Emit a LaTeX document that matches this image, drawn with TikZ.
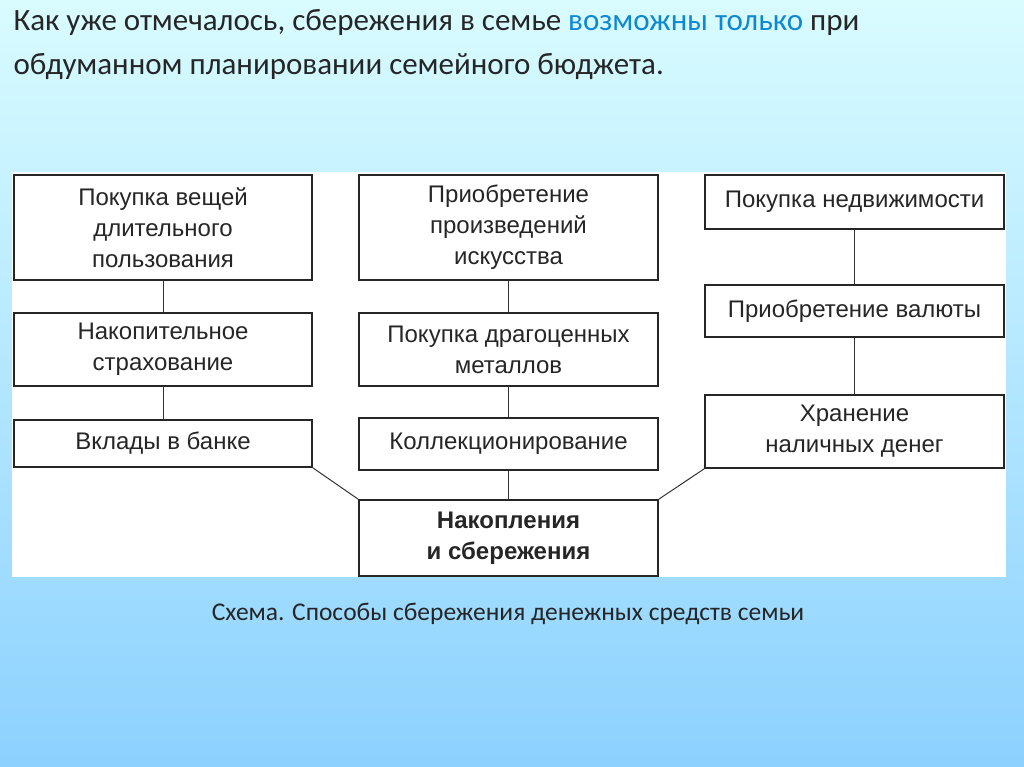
\documentclass[tikz,border=0pt]{standalone}
\usepackage{fontspec}
\setmainfont{Carlito}
\newfontfamily\boxfont{Liberation Sans}
\begin{document}
\begin{tikzpicture}[x=1pt,y=-1pt,
 bx/.style={draw=black!85,line width=1.6pt,fill=white,align=center,font=\boxfont\fontsize{24}{31}\selectfont,text=black!85,inner sep=0pt},
 ln/.style={draw=black!80,line width=1pt}]
\shade[top color=blue!8!cyan!15!white, bottom color=blue!40!cyan!45!white] (0,0) rectangle (1024,767);
\useasboundingbox (0,0) rectangle (1024,767);
\fill[white] (12,172) rectangle (1006,577);
\node[anchor=north west,align=left,font=\fontsize{31}{44}\selectfont,text=black!85] (title) at (10,6)
 {Как уже отмечалось, сбережения в семье \textcolor{cyan!70!blue}{возможны только} при\\обдуманном планировании семейного бюджета.};
\node[bx,minimum width=298,minimum height=105] (a1) at (163,227.5) {Покупка вещей\\длительного\\пользования};
\node[bx,minimum width=298,minimum height=73] (a2) at (163,349.5) {Накопительное\\страхование};
\node[bx,minimum width=298,minimum height=47] (a3) at (163,443.5) {Вклады в банке};
\node[bx,minimum width=299,minimum height=105] (b1) at (508.5,227.5) {Приобретение\\произведений\\искусства};
\node[bx,minimum width=299,minimum height=73] (b2) at (508.5,349.5) {Покупка драгоценных\\металлов};
\node[bx,minimum width=299,minimum height=52] (b3) at (508.5,444) {Коллекционирование};
\node[bx,minimum width=299,minimum height=76,font=\boxfont\bfseries\fontsize{24}{31}\selectfont] (b4) at (508.5,538) {Накопления\\и сбережения};
\node[bx,minimum width=299,minimum height=54] (c1) at (854.5,202) {Покупка недвижимости};
\node[bx,minimum width=299,minimum height=52] (c2) at (854.5,311) {Приобретение валюты};
\node[bx,minimum width=299,minimum height=73] (c3) at (854.5,431.5) {Хранение\\наличных денег};
\draw[ln] (a1.south) -- (a2.north);
\draw[ln] (a2.south) -- (a3.north);
\draw[ln] (b1.south) -- (b2.north);
\draw[ln] (b2.south) -- (b3.north);
\draw[ln] (b3.south) -- (b4.north);
\draw[ln] (c1.south) -- (c2.north);
\draw[ln] (c2.south) -- (c3.north);
\draw[ln] (a3.south east) -- (b4.north west);
\draw[ln] (c3.south west) -- (b4.north east);
\node[font=\fontsize{25.5}{30}\selectfont,text=black!85] (cap) at (508,614) {Схема. Способы сбережения денежных средств семьи};
\end{tikzpicture}
\end{document}
